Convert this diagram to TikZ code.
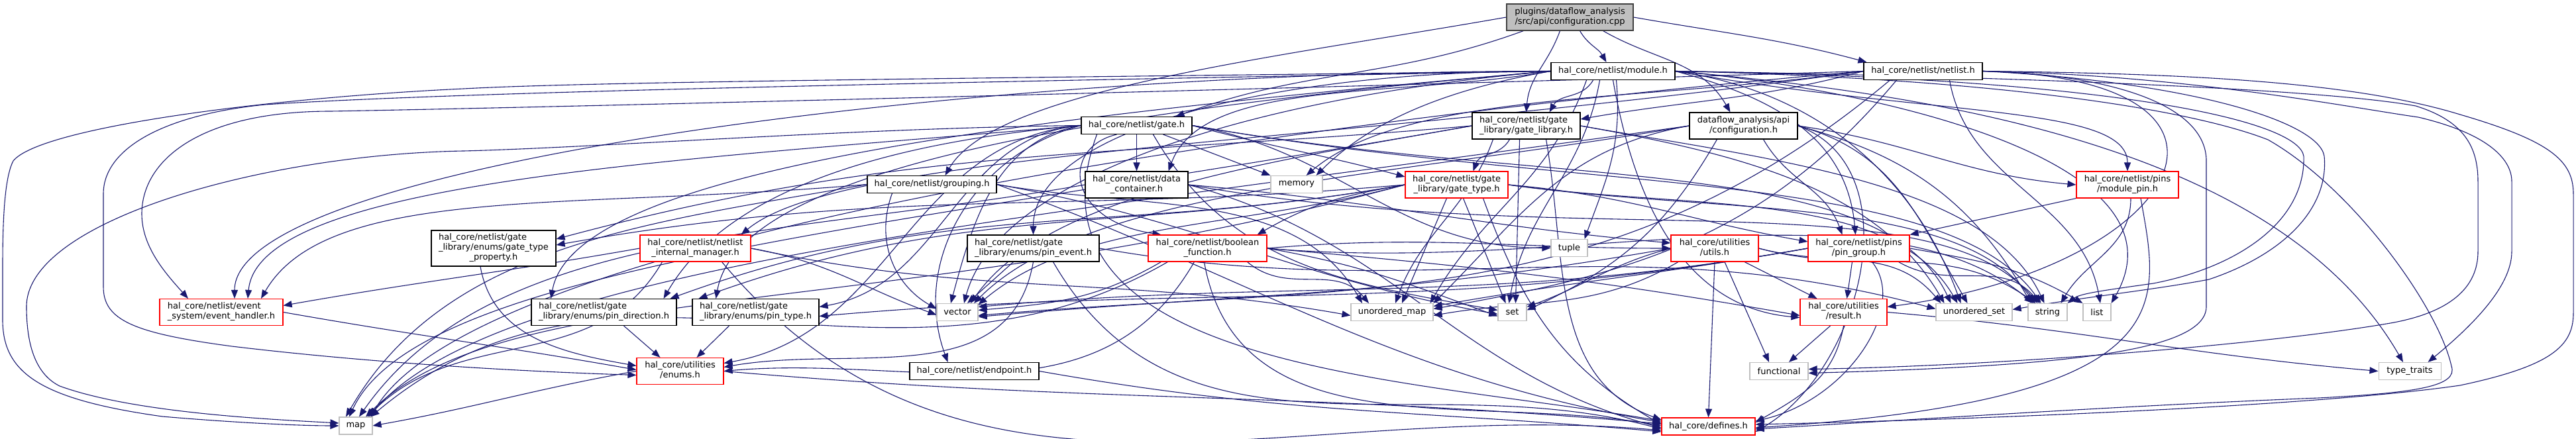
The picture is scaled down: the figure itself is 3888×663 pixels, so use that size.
\documentclass[tikz,border=0pt]{standalone}
\usepackage{fontspec}
\setmainfont{DejaVu Sans}
\usetikzlibrary{arrows.meta}
\definecolor{edgec}{HTML}{191970}
\definecolor{grayb}{HTML}{BFBFBF}
\definecolor{rootf}{HTML}{BFBFBF}
\newcommand{\twol}[2]{\begin{tabular}{@{}l@{}}#1\\\multicolumn{1}{@{}c@{}}{#2}\end{tabular}}
\newcommand{\threel}[3]{\begin{tabular}{@{}l@{}}#1\\#2\\\multicolumn{1}{@{}c@{}}{#3}\end{tabular}}
\pgfdeclarelayer{bg}
\pgfsetlayers{bg,main}
\begin{document}
\begin{tikzpicture}[x=1pt,y=1pt,
  box/.style={draw=black, line width=1.1pt, fill=white, inner sep=0pt, font=\fontsize{13}{15}\selectfont, text=black},
  hbox/.style={box}, rbox/.style={box, draw=red}, sbox/.style={box, draw=grayb},
  rootbox/.style={box, fill=rootf, draw=black!75},
  h1/.style={minimum height=26pt}, h2/.style={minimum height=40pt}, h3/.style={minimum height=54pt},
  conn/.style={draw=edgec, line width=1.1pt, -{Triangle[length=13pt,width=10pt]}}
]
\useasboundingbox (0,0) rectangle (3888,663);
% nodes
\node[rootbox,h2,minimum width=191pt] (root) at (2369.5,637) {\twol{plugins/dataflow\_analysis}{/src/api/configuration.cpp}};
\node[hbox,h1,minimum width=187pt] (module) at (2434.5,555.5) {hal\_core/netlist/module.h};
\node[hbox,h1,minimum width=179pt] (netlist) at (2902.5,555.5) {hal\_core/netlist/netlist.h};
\node[hbox,h1,minimum width=167pt] (gate) at (1715.5,473.5) {hal\_core/netlist/gate.h};
\node[hbox,h2,minimum width=163pt] (gatelib) at (2303.5,473) {\twol{hal\_core/netlist/gate}{\_library/gate\_library.h}};
\node[hbox,h2,minimum width=163pt] (dfconfig) at (2631.5,473) {\twol{dataflow\_analysis/api}{/configuration.h}};
\node[hbox,h1,minimum width=195pt] (grouping) at (1406.5,384.5) {hal\_core/netlist/grouping.h};
\node[hbox,h2,minimum width=155pt] (datacont) at (1715.5,384) {\twol{hal\_core/netlist/data}{\_container.h}};
\node[sbox,h1,minimum width=78pt] (memory) at (1957,384.5) {memory};
\node[rbox,h2,minimum width=155pt] (gatetype) at (2198.5,384) {\twol{hal\_core/netlist/gate}{\_library/gate\_type.h}};
\node[rbox,h2,minimum width=154pt] (modulepin) at (3211,384) {\twol{hal\_core/netlist/pins}{/module\_pin.h}};
\node[hbox,h3,minimum width=188pt] (gtprop) at (745,288) {\threel{hal\_core/netlist/gate}{\_library/enums/gate\_type}{\_property.h}};
\node[rbox,h2,minimum width=167pt] (intmgr) at (1049.5,288) {\twol{hal\_core/netlist/netlist}{\_internal\_manager.h}};
\node[hbox,h2,minimum width=199pt] (pinevent) at (1559.5,288) {\twol{hal\_core/netlist/gate}{\_library/enums/pin\_event.h}};
\node[rbox,h2,minimum width=179pt] (boolfn) at (1822.5,288) {\twol{hal\_core/netlist/boolean}{\_function.h}};
\node[sbox,h1,minimum width=55pt] (tuple) at (2368.5,288.5) {tuple};
\node[rbox,h2,minimum width=132pt] (utils) at (2588,288) {\twol{hal\_core/utilities}{/utils.h}};
\node[rbox,h2,minimum width=153pt] (pingroup) at (2805.5,288) {\twol{hal\_core/netlist/pins}{/pin\_group.h}};
\node[rbox,h2,minimum width=186pt] (evhandler) at (334,191.5) {\twol{hal\_core/netlist/event}{\_system/event\_handler.h}};
\node[hbox,h2,minimum width=219pt] (pindir) at (911.5,191.5) {\twol{hal\_core/netlist/gate}{\_library/enums/pin\_direction.h}};
\node[hbox,h2,minimum width=191pt] (pintype) at (1140.5,191.5) {\twol{hal\_core/netlist/gate}{\_library/enums/pin\_type.h}};
\node[rbox,h2,minimum width=131pt] (result) at (2782.5,191.5) {\twol{hal\_core/utilities}{/result.h}};
\node[sbox,h1,minimum width=62pt] (vector) at (1445,191.5) {vector};
\node[sbox,h1,minimum width=124pt] (umap) at (2101,191.5) {unordered\_map};
\node[sbox,h1,minimum width=43pt] (set) at (2282.5,191.5) {set};
\node[sbox,h1,minimum width=115pt] (uset) at (2979.5,191.5) {unordered\_set};
\node[sbox,h1,minimum width=59pt] (string) at (3090.5,191.5) {string};
\node[sbox,h1,minimum width=42pt] (list) at (3165,191.5) {list};
\node[rbox,h2,minimum width=131pt] (enums) at (1026.5,102.5) {\twol{hal\_core/utilities}{/enums.h}};
\node[hbox,h1,minimum width=195pt] (endpoint) at (1470.5,102.5) {hal\_core/netlist/endpoint.h};
\node[sbox,h1,minimum width=88pt] (functional) at (2685,102.5) {functional};
\node[sbox,h1,minimum width=94pt] (typetraits) at (3637,102.5) {type\_traits};
\node[sbox,h1,minimum width=50pt] (map) at (537,20) {map};
\node[rbox,h1,minimum width=141pt] (defines) at (2578.5,19) {hal\_core/defines.h};

\begin{pgfonlayer}{bg}
% root
\draw[conn] (root.west) .. controls +(190:350) and +(60:150) .. ([xshift=20pt]grouping.north);
\draw[conn] ([xshift=-70pt]root.south) .. controls +(-160:215) and +(20:215) .. ([xshift=-25pt]gate.north east);
\draw[conn] ([xshift=-15pt]root.south) .. controls +(-110:55) and +(85:55) .. (gatelib.north);
\draw[conn] ([xshift=15pt]root.south) .. controls +(-60:25) and +(120:25) .. ([xshift=-10pt]module.north);
\draw[conn] ([xshift=50pt]root.south) .. controls +(-30:90) and +(120:90) .. ([xshift=-20pt]dfconfig.north);
\draw[conn] (root.east) .. controls +(-10:140) and +(165:140) .. ([xshift=5pt]netlist.north west);
% module
\draw[conn] (module.west) .. controls +(190:240) and +(70:150) .. ([xshift=-30pt]datacont.north east);
\draw[conn] (module.west) .. controls +(180:900) and +(90:200) .. ([xshift=20pt]evhandler.north);
\draw[conn] ([xshift=-30pt]module.south) .. controls +(-120:33) and +(60:33) .. ([xshift=35pt]gatelib.north);
\draw[conn] (module.west) .. controls +(185:800) and +(80:200) .. ([xshift=-80pt]pindir.north);
\draw[conn] (module.west) .. controls +(185:700) and +(80:200) .. ([xshift=-60pt]pintype.north);
\draw[conn] (module.west) .. controls +(180:450) and +(90:150) .. (pinevent.north);
\draw[conn] (module.east) .. controls +(-10:400) and +(90:100) .. (modulepin.north);
\draw[conn] (module.east) .. controls +(-15:150) and +(95:150) .. ([xshift=-5pt]pingroup.north);
\draw[conn] (module.south) .. controls +(-80:180) and +(175:180) .. ([yshift=-8pt]result.west);
\draw[conn] (module.east) .. controls +(-5:300) and +(60:250) .. (list.north east);
\draw[conn] (module.west) .. controls +(190:155) and +(45:120) .. ([xshift=-10pt]memory.north east);
\draw[conn] ([xshift=-20pt]module.south) .. controls +(-100:145) and +(80:145) .. ([xshift=-5pt]set.north);
\draw[conn] ([xshift=-40pt]module.south) .. controls +(-110:165) and +(60:165) .. ([xshift=-5pt]umap.north east);
\draw[conn] (module.east) .. controls +(-8:220) and +(110:200) .. ([xshift=-20pt]uset.north);
\draw[conn] (module.west) .. controls +(185:450) and +(75:200) .. ([xshift=10pt]vector.north);
\draw[conn] ([xshift=5pt]module.south) .. controls +(-85:100) and +(70:100) .. ([xshift=-5pt]tuple.north east);
\draw[conn] (module.east) .. controls +(-5:470) and +(120:350) .. ([xshift=-10pt]typetraits.north);
\draw[conn] (module.west) .. controls (1500,545) and (900,540) .. (700,529) .. controls (400,515) and (60,470) .. (20,420) .. controls (4,390) and (4,300) .. (4,250) -- (4,180) .. controls (4,100) and (60,60) .. (245,34) .. controls (350,25) and (450,20) .. (map.west);
\draw[conn] (module.west) .. controls (1500,540) and (700,525) .. (400,505) .. controls (250,490) and (156,440) .. (156,370) -- (156,230) .. controls (156,180) and (200,160) .. (350,140) .. controls (600,110) and (850,100) .. ([yshift=-6pt]enums.west);
\draw[conn] (module.east) .. controls (3000,548) and (3500,530) .. (3646,503) .. controls (3720,480) and (3740,440) .. (3740,389) -- (3740,283) .. controls (3740,230) and (3700,190) .. (3602,174) .. controls (3400,140) and (3000,110) .. ([yshift=3pt]functional.east);
\draw[conn] (module.east) .. controls (3000,545) and (3300,500) .. (3423,452) .. controls (3550,380) and (3680,200) .. (3700,110) .. controls (3710,80) and (3650,70) .. (3500,62) .. controls (3200,50) and (2900,30) .. ([yshift=-4pt]defines.east);
\draw[conn] (module.east) .. controls (3200,545) and (3470,480) .. (3477,427) .. controls (3480,330) and (3380,260) .. (3250,235) .. controls (3180,225) and (3140,220) .. (string.north east);
% netlist
\draw[conn] (netlist.west) .. controls +(195:170) and +(10:170) .. ([yshift=10pt]gatelib.east);
\draw[conn] (netlist.west) .. controls +(188:800) and +(40:200) .. ([xshift=-15pt]intmgr.north east);
\draw[conn] (netlist.east) .. controls (3450,545) and (3300,260) .. ([yshift=8pt]result.east);
\draw[conn] ([xshift=40pt]netlist.south) .. controls +(-80:160) and +(100:160) .. ([xshift=5pt]list.north);
\draw[conn] (netlist.west) .. controls +(185:1000) and +(60:300) .. ([xshift=-3pt]map.north east);
\draw[conn] (netlist.west) .. controls +(188:340) and +(40:200) .. ([xshift=-25pt]memory.north east);
\draw[conn] ([xshift=-40pt]netlist.south) .. controls +(-130:310) and +(10:310) .. ([yshift=5pt]umap.east);
\draw[conn] ([xshift=-50pt]netlist.south) .. controls +(-140:560) and +(5:560) .. ([yshift=-5pt]vector.east);
\draw[conn] (netlist.east) .. controls (3300,552) and (3550,540) .. (3713,490) .. controls (3850,450) and (3884,420) .. (3884,370) -- (3884,190) .. controls (3884,140) and (3850,110) .. (3713,81) .. controls (3500,50) and (3000,30) .. ([yshift=3pt]defines.east);
\draw[conn] (netlist.west) .. controls (2000,530) and (800,500) .. (500,495) .. controls (300,495) and (214,420) .. (214,340) .. controls (214,290) and (250,250) .. ([xshift=-50pt]evhandler.north);
\draw[conn] (netlist.east) .. controls (3300,550) and (3550,500) .. (3650,486) .. controls (3760,460) and (3791,420) .. (3791,389) -- (3791,283) .. controls (3791,230) and (3730,170) .. ([xshift=-20pt]typetraits.north east);
\draw[conn] (netlist.east) .. controls (3200,550) and (3330,500) .. (3330,420) -- (3330,200) .. controls (3330,130) and (3100,110) .. ([yshift=-3pt]functional.east);
\draw[conn] (netlist.east) .. controls (3300,540) and (3500,480) .. (3508,427) .. controls (3515,350) and (3450,280) .. (3334,241) .. controls (3250,225) and (3150,215) .. ([yshift=4pt]uset.east);
% gate
\draw[conn] (gate.west) .. controls +(185:600) and +(85:180) .. ([xshift=40pt]evhandler.north);
\draw[conn] (gate) -- (datacont);
\draw[conn] ([xshift=-30pt]gate.south) .. controls (1600,440) and (1610,330) .. ([xshift=-70pt]boolfn.north);
\draw[conn] (gate.east) .. controls +(-15:130) and +(165:130) .. ([yshift=12pt]gatetype.west);
\draw[conn] ([xshift=40pt]gate.south) -- (memory.north west);
\draw[conn] ([xshift=25pt]gate.south) .. controls +(-60:230) and +(170:230) .. ([yshift=3pt]set.west);
\draw[conn] (gate.east) .. controls +(-10:600) and +(125:250) .. ([xshift=-10pt]string.north);
\draw[conn] (gate.east) .. controls +(-10:550) and +(115:250) .. ([xshift=-35pt]uset.north);
\draw[conn] (gate.west) .. controls +(190:130) and +(75:130) .. ([xshift=-10pt]vector.north);
\draw[conn] ([xshift=-60pt]gate.south) .. controls +(-110:380) and +(170:380) .. ([yshift=8pt]defines.west);
\draw[conn] (gate.west) .. controls +(185:260) and +(10:260) .. ([yshift=12pt]enums.east);
\draw[conn] (gate.west) .. controls +(185:190) and +(10:190) .. ([yshift=8pt]pintype.east);
\draw[conn] (gate.west) .. controls +(185:270) and +(60:200) .. ([xshift=-20pt]pindir.north east);
\draw[conn] (gate.west) .. controls +(195:165) and +(110:165) .. ([xshift=-40pt]endpoint.north);
\draw[conn] (gate.east) .. controls +(-10:230) and +(180:230) .. (tuple.west);
\draw[conn] (gate.west) .. controls (1300,470) and (900,440) .. (700,435) .. controls (400,430) and (40,330) .. (40,200) .. controls (40,130) and (60,95) .. (90,80) .. controls (200,40) and (400,30) .. ([yshift=4pt]map.west);
% gatelib
\draw[conn] ([xshift=-25pt]gatelib.south) .. controls +(-120:30) and +(70:30) .. ([xshift=25pt]gatetype.north);
\draw[conn] ([xshift=-10pt]gatelib.south) -- ([xshift=5pt]set.north);
\draw[conn] (gatelib.west) .. controls +(190:900) and +(65:250) .. ([xshift=-10pt]map.north);
\draw[conn] (gatelib.east) .. controls +(-10:300) and +(115:200) .. ([xshift=-5pt]string.north);
\draw[conn] ([xshift=-50pt]gatelib.south) .. controls +(-110:115) and +(70:115) .. ([xshift=5pt]umap.north);
\draw[conn] (gatelib.west) .. controls +(190:320) and +(55:200) .. ([xshift=20pt]vector.north);
\draw[conn] ([xshift=30pt]gatelib.south) .. controls +(-80:180) and +(160:180) .. ([yshift=10pt]defines.west);
\draw[conn] (gatelib.east) .. controls +(-10:245) and +(120:200) .. ([xshift=-45pt]uset.north);
\draw[conn] (gatelib.west) .. controls +(185:550) and +(15:550) .. ([yshift=14pt]gtprop.east);
% gatetype
\draw[conn] (gatetype.west) .. controls +(190:95) and +(30:95) .. ([xshift=-15pt]boolfn.north east);
\draw[conn] (gatetype.west) .. controls +(185:510) and +(10:510) .. ([yshift=5pt]gtprop.east);
\draw[conn] (gatetype.west) .. controls +(190:450) and +(20:450) .. ([xshift=-10pt]pindir.north east);
\draw[conn] (gatetype.west) .. controls +(190:430) and +(20:430) .. ([xshift=10pt]pintype.north west);
\draw[conn] (gatetype.east) .. controls +(-5:185) and +(170:185) .. ([yshift=10pt]pingroup.west);
\draw[conn] ([xshift=10pt]gatetype.south) -- ([xshift=-10pt]set.north);
\draw[conn] ([xshift=-15pt]gatetype.south) -- ([xshift=15pt]umap.north);
\draw[conn] (gatetype.east) .. controls +(-8:325) and +(125:200) .. ([xshift=-20pt]string.north);
\draw[conn] (gatetype.east) .. controls +(-8:280) and +(120:200) .. ([xshift=-25pt]uset.north);
\draw[conn] (gatetype.west) .. controls +(195:265) and +(40:200) .. ([yshift=-2pt]vector.north east);
\draw[conn] ([xshift=40pt]gatetype.south) .. controls +(-70:175) and +(150:175) .. ([yshift=3pt]defines.west);
\draw[conn] (gatetype.west) .. controls +(195:800) and +(45:300) .. ([xshift=15pt]map.north);
% dfconfig
\draw[conn] (dfconfig.east) .. controls +(-20:185) and +(30:185) .. ([yshift=-8pt]defines.east);
\draw[conn] (dfconfig.east) .. controls +(-8:170) and +(175:170) .. (modulepin.west);
\draw[conn] ([xshift=30pt]dfconfig.south) .. controls +(-60:75) and +(110:75) .. ([xshift=-25pt]pingroup.north);
\draw[conn] ([xshift=-40pt]dfconfig.south) .. controls +(-120:155) and +(25:155) .. ([yshift=3pt]set.east);
\draw[conn] (dfconfig.west) .. controls +(190:190) and +(45:190) .. (umap.north east);
\draw[conn] (dfconfig.east) .. controls +(-15:150) and +(120:150) .. ([xshift=-10pt]uset.north);
\draw[conn] (dfconfig.east) .. controls +(-15:175) and +(120:175) .. ([xshift=-25pt]string.north);
\draw[conn] (dfconfig.west) .. controls +(190:440) and +(45:250) .. ([xshift=25pt]vector.north);
\draw[conn] (dfconfig.west) .. controls +(188:1000) and +(50:300) .. ([xshift=20pt]map.north);
% grouping
\draw[conn] (grouping.west) .. controls +(185:450) and +(60:200) .. ([xshift=60pt]evhandler.north);
\draw[conn] ([xshift=-60pt]grouping.south) .. controls +(-110:75) and +(150:75) .. ([yshift=5pt]vector.west);
\draw[conn] (grouping.east) .. controls +(-10:230) and +(120:200) .. ([xshift=-45pt]umap.north);
\draw[conn] (grouping.east) .. controls +(-10:310) and +(170:310) .. ([yshift=-3pt]set.west);
\draw[conn] (grouping.east) .. controls +(-20:420) and +(170:420) .. ([yshift=6pt]defines.west);
\draw[conn] (grouping.west) .. controls +(190:340) and +(60:300) .. ([xshift=-15pt]map.north);
% datacont
\draw[conn] (datacont.west) .. controls +(190:460) and +(55:350) .. ([xshift=5pt]map.north);
\draw[conn] (datacont.east) .. controls +(-10:600) and +(130:250) .. ([xshift=-15pt]string.north);
\draw[conn] (datacont.east) .. controls +(-15:320) and +(165:320) .. ([yshift=-2pt]defines.west);
\draw[conn] (datacont.east) .. controls +(-5:290) and +(175:290) .. ([yshift=8pt]utils.west);
% intmgr
\draw[conn] (intmgr.west) .. controls +(190:215) and +(10:215) .. ([yshift=10pt]evhandler.east);
\draw[conn] ([xshift=-50pt]intmgr.south) .. controls +(-120:200) and +(45:200) .. ([xshift=-8pt]map.north east);
\draw[conn] ([xshift=40pt]intmgr.south) .. controls +(-50:570) and +(175:570) .. ([yshift=-6pt]defines.west);
\draw[conn] (intmgr.east) .. controls +(-10:120) and +(160:120) .. ([yshift=-4pt]vector.west);
\draw[conn] (intmgr.east) .. controls +(-12:360) and +(170:360) .. ([yshift=-5pt]umap.west);
% pinevent
\draw[conn] ([xshift=-30pt]pinevent.south) -- ([xshift=15pt]vector.north);
\draw[conn] (pinevent.south) .. controls +(-100:200) and +(10:200) .. ([yshift=6pt]enums.east);
\draw[conn] ([xshift=30pt]pinevent.south) .. controls +(-60:380) and +(165:380) .. ([yshift=-4pt]defines.west);
\draw[conn] (pinevent.east) .. controls +(-10:500) and +(165:500) .. ([yshift=5pt]uset.west);
% boolfn
\draw[conn] ([xshift=-70pt]boolfn.south) .. controls +(-150:115) and +(5:115) .. ([yshift=3pt]vector.east);
\draw[conn] ([xshift=-60pt]boolfn.south) .. controls +(-150:490) and +(40:490) .. ([xshift=-3pt]map.north east);
\draw[conn] ([xshift=-20pt]boolfn.south) .. controls +(-120:290) and +(5:290) .. (enums.east);
\draw[conn] ([xshift=-5pt]boolfn.south) .. controls +(-80:290) and +(170:290) .. ([yshift=1pt]defines.west);
\draw[conn] ([xshift=60pt]boolfn.south) .. controls +(-40:80) and +(130:80) .. ([xshift=-35pt]umap.north);
\draw[conn] (boolfn.east) .. controls +(-10:145) and +(160:145) .. ([yshift=-6pt]set.west);
\draw[conn] (boolfn.east) .. controls +(-5:320) and +(170:320) .. ([yshift=-5pt]result.west);
\draw[conn] (boolfn.east) .. controls +(-5:460) and +(140:300) .. ([xshift=-22pt]string.north);
\draw[conn] (boolfn.east) .. controls +(5:240) and +(180:240) .. (utils.west);
% utils
\draw[conn] (utils.south) -- (defines.north);
\draw[conn] ([xshift=15pt]utils.south) -- ([xshift=-15pt]functional.north);
\draw[conn] ([xshift=45pt]utils.south) -- ([xshift=-40pt]result.north);
\draw[conn] ([xshift=-55pt]utils.south) .. controls +(-150:150) and +(10:150) .. ([yshift=-5pt]umap.east);
\draw[conn] (utils.west) .. controls +(190:420) and +(5:420) .. ([yshift=-7pt]vector.east);
\draw[conn] (utils.west) .. controls +(195:95) and +(20:95) .. ([yshift=8pt]set.east);
\draw[conn] (utils.east) .. controls +(-15:170) and +(145:170) .. ([xshift=-18pt]string.north);
\draw[conn] (utils.east) .. controls +(-15:115) and +(130:115) .. ([xshift=-50pt]uset.north);
% pingroup
\draw[conn] ([xshift=-10pt]pingroup.south) -- ([xshift=5pt]result.north);
\draw[conn] ([xshift=20pt]pingroup.south) .. controls (2880,200) and (2790,60) .. ([yshift=8pt]defines.east);
\draw[conn] (pingroup.east) .. controls +(-10:110) and +(150:110) .. (list.north west);
\draw[conn] ([xshift=60pt]pingroup.south) .. controls +(-30:90) and +(130:90) .. ([xshift=-12pt]string.north);
\draw[conn] (pingroup.west) .. controls +(190:600) and +(5:600) .. ([yshift=-6pt]pintype.east);
\draw[conn] (pingroup.west) .. controls +(190:500) and +(5:500) .. ([yshift=8pt]vector.east);
\draw[conn] (pingroup.west) .. controls +(190:230) and +(10:230) .. ([yshift=9pt]umap.east);
% modulepin
\draw[conn] (modulepin.south west) -- (pingroup.north east);
\draw[conn] ([xshift=5pt]modulepin.south) .. controls +(-90:75) and +(60:75) .. ([xshift=20pt]string.north);
\draw[conn] ([xshift=20pt]modulepin.south) .. controls (3260,200) and (3300,60) .. ([yshift=-2pt]defines.east);
% leaves
\draw[conn] (evhandler.east) .. controls +(-10:215) and +(170:215) .. ([yshift=2pt]enums.west);
\draw[conn] ([xshift=30pt]pindir.south) -- ([xshift=-30pt]enums.north);
\draw[conn] ([xshift=-40pt]pintype.south) -- ([xshift=25pt]enums.north);
\draw[conn] ([xshift=-20pt]gtprop.south) .. controls +(-80:110) and +(170:110) .. ([yshift=8pt]enums.west);
\draw[conn] (enums.west) .. controls +(190:160) and +(10:160) .. (map.east);
\draw[conn] (enums.east) .. controls +(-5:560) and +(175:560) .. ([yshift=4pt]defines.west);
\draw[conn] ([xshift=-20pt]result.south) -- ([xshift=15pt]functional.north);
\draw[conn] (result.south) .. controls +(-100:80) and +(30:80) .. ([yshift=6pt]defines.east);
\draw[conn] (result.east) .. controls +(-5:300) and +(175:300) .. (typetraits.west);
\draw[conn] (endpoint.east) .. controls +(-10:375) and +(175:375) .. ([yshift=-8pt]defines.west);
\end{pgfonlayer}
\end{tikzpicture}
\end{document}
